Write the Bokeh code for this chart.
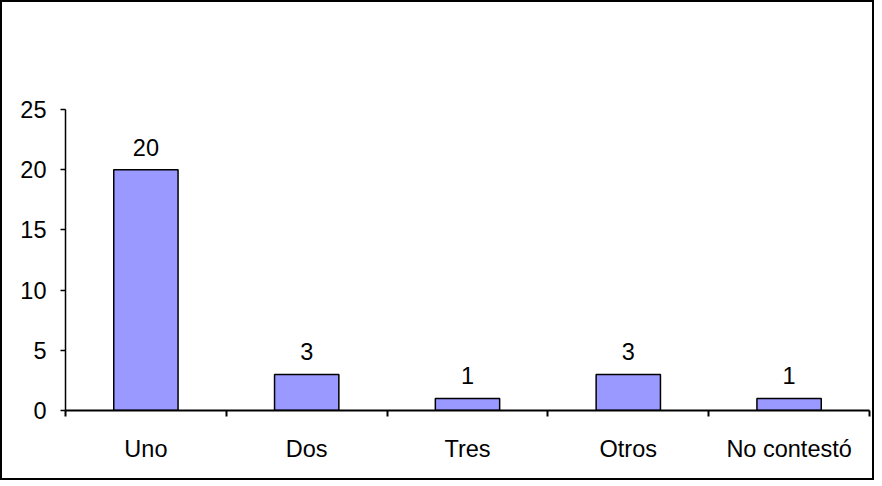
from bokeh.plotting import figure
from bokeh.models import ColumnDataSource, FixedTicker, Range1d
from bokeh.embed import file_html
from bokeh.resources import INLINE
from bokeh.core.properties import value

categories = ["Uno", "Dos", "Tres", "Otros", "No contestó"]
counts = [20, 3, 1, 3, 1]
y_ticks = [0, 5, 10, 15, 20, 25]

xpos = [i + 0.5 for i in range(len(categories))]
src = ColumnDataSource(dict(x=xpos, top=counts, label=[str(c) for c in counts]))

FONT = "Liberation Sans"
FS = "23.5px"

p = figure(width=874, height=480, output_backend="svg", toolbar_location=None,
           x_range=Range1d(0, len(categories)), y_range=Range1d(0, 25),
           min_border_top=107, min_border_left=63, min_border_right=7, min_border_bottom=72)
p.styles = {"border": "2px solid black", "box-sizing": "border-box"}
p.outline_line_color = None
p.xgrid.visible = False
p.ygrid.visible = False
p.background_fill_color = "white"
p.border_fill_color = "white"

p.vbar(x="x", top="top", width=0.4, bottom=0, source=src,
       fill_color="#9999FF", line_color="black", line_width=1.5)
p.text(x="x", y="top", text="label", source=src, text_align="center",
       text_baseline="bottom", y_offset=-14, text_font=value(FONT),
       text_font_size=FS, text_color="black")

p.xaxis.ticker = FixedTicker(ticks=xpos, minor_ticks=list(range(len(categories) + 1)))
p.xaxis.major_label_overrides = {x: c for x, c in zip(xpos, categories)}
p.xaxis.major_tick_out = 0
p.xaxis.major_tick_in = 0
p.xaxis.minor_tick_out = 6
p.xaxis.minor_tick_in = 0
p.xaxis.minor_tick_line_color = "black"
p.xaxis.minor_tick_line_width = 2
p.xaxis.axis_line_width = 2
p.xaxis.major_label_standoff = 19
p.xaxis.major_label_text_font = FONT
p.xaxis.major_label_text_font_size = FS
p.xaxis.major_label_text_color = "black"

p.yaxis.ticker = FixedTicker(ticks=y_ticks, minor_ticks=[])
p.yaxis.major_tick_out = 5
p.yaxis.major_tick_in = 0
p.yaxis.major_tick_line_width = 1.5
p.yaxis.axis_line_width = 1.5
p.yaxis.major_label_standoff = 14
p.yaxis.major_label_text_font = FONT
p.yaxis.major_label_text_font_size = FS
p.yaxis.major_label_text_color = "black"

open("out.html", "w").write(file_html(p, INLINE))
